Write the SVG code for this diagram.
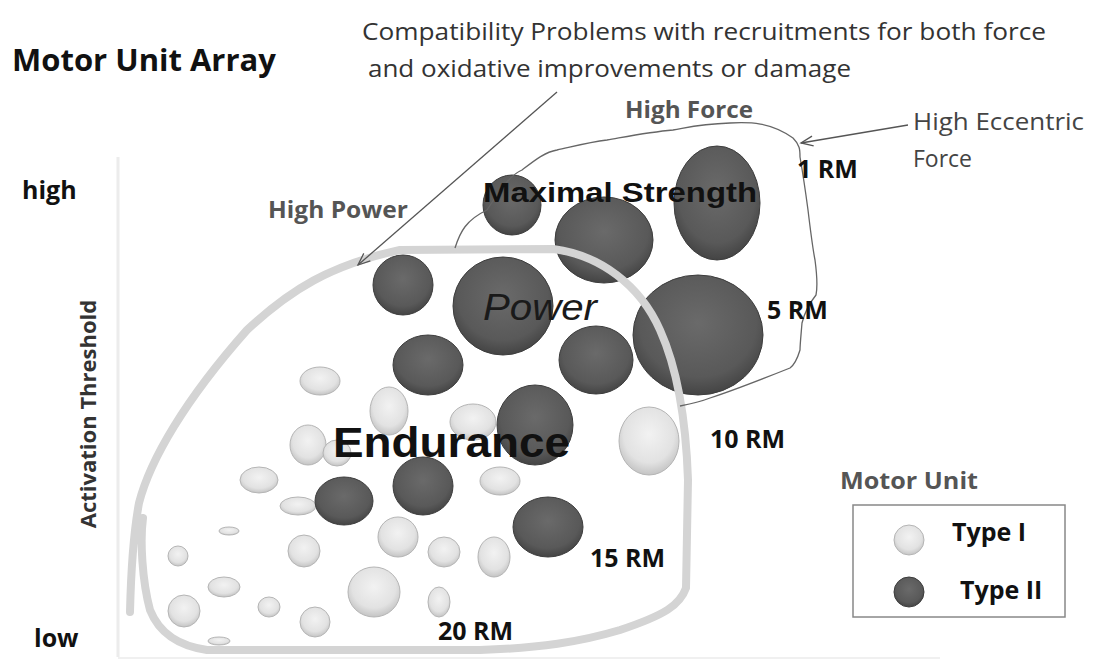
<svg xmlns="http://www.w3.org/2000/svg" width="1094" height="664" viewBox="0 0 1094 664">
<defs>
<radialGradient id="gDark" cx="0.5" cy="0.4" r="0.6">
<stop offset="0" stop-color="#6a6a6a"/>
<stop offset="0.75" stop-color="#595959"/>
<stop offset="1" stop-color="#444"/>
</radialGradient>
<radialGradient id="gLight" cx="0.5" cy="0.4" r="0.6">
<stop offset="0" stop-color="#f2f2f2"/>
<stop offset="0.7" stop-color="#e2e2e2"/>
<stop offset="1" stop-color="#c4c4c4"/>
</radialGradient>
<marker id="vhead" viewBox="-14 -8 16 16" refX="0" refY="0" markerWidth="16" markerHeight="16" markerUnits="userSpaceOnUse" orient="auto">
<path d="M-12,-5 L0,0 L-12,5" fill="none" stroke="#555" stroke-width="1.3"/>
</marker>
<style>
.d{fill:url(#gDark);stroke:#3d3d3d;stroke-width:1}
.l{fill:url(#gLight);stroke:#b5b5b5;stroke-width:1}
.cal{font-family:"Open Sans","Liberation Sans",sans-serif}
.b{font-weight:bold}
.lab{font-family:"Open Sans","Liberation Sans",sans-serif;font-weight:bold;fill:#111;font-size:25px}
.gray{font-family:"Open Sans","Liberation Sans",sans-serif;font-weight:bold;fill:#555;font-size:23px}
.ar{font-family:"Liberation Sans",Arial,sans-serif;font-weight:bold;fill:#111}
</style>
</defs>
<rect width="1094" height="664" fill="#fff"/>
<g id="axes">
<line x1="118" y1="157" x2="118" y2="657" stroke="#ececec" stroke-width="3"/>
<line x1="118" y1="658" x2="940" y2="658" stroke="#f0f0f0" stroke-width="2"/>
</g>
<g id="type1-units">
<ellipse class="l" cx="320" cy="381" rx="20" ry="14"/>
<ellipse class="l" cx="389" cy="411" rx="19" ry="24"/>
<ellipse class="l" cx="473" cy="422" rx="23" ry="18"/>
<ellipse class="l" cx="308" cy="445" rx="18" ry="20"/>
<ellipse class="l" cx="337" cy="453" rx="14" ry="13"/>
<ellipse class="l" cx="649" cy="441" rx="30" ry="34"/>
<ellipse class="l" cx="500" cy="481" rx="20" ry="14"/>
<ellipse class="l" cx="259" cy="480" rx="19" ry="13"/>
<ellipse class="l" cx="298" cy="506" rx="18" ry="9"/>
<ellipse class="l" cx="229" cy="531" rx="10" ry="4"/>
<ellipse class="l" cx="178" cy="556" rx="10" ry="10"/>
<ellipse class="l" cx="304" cy="551" rx="16" ry="16"/>
<ellipse class="l" cx="398" cy="537" rx="20" ry="20"/>
<ellipse class="l" cx="444" cy="552" rx="16" ry="15"/>
<ellipse class="l" cx="494" cy="557" rx="16" ry="20"/>
<ellipse class="l" cx="224" cy="587" rx="16" ry="10"/>
<ellipse class="l" cx="184" cy="611" rx="16" ry="16"/>
<ellipse class="l" cx="269" cy="607" rx="11" ry="10"/>
<ellipse class="l" cx="315" cy="622" rx="15" ry="15"/>
<ellipse class="l" cx="374" cy="592" rx="26" ry="25"/>
<ellipse class="l" cx="439" cy="602" rx="11" ry="15"/>
<ellipse class="l" cx="219" cy="641" rx="11" ry="4"/>
</g>
<g id="type2-units">
<ellipse class="d" cx="512" cy="205" rx="29" ry="30"/>
<ellipse class="d" cx="604" cy="240" rx="49" ry="43"/>
<ellipse class="d" cx="717" cy="203" rx="43" ry="57"/>
<ellipse class="d" cx="403" cy="285" rx="30" ry="30"/>
<ellipse class="d" cx="503" cy="306" rx="50" ry="49"/>
<ellipse class="d" cx="698" cy="335" rx="65" ry="60"/>
<ellipse class="d" cx="596" cy="360" rx="37" ry="34"/>
<ellipse class="d" cx="428" cy="365" rx="35" ry="30"/>
<ellipse class="d" cx="535" cy="425" rx="38" ry="40"/>
<ellipse class="d" cx="423" cy="486" rx="30" ry="29"/>
<ellipse class="d" cx="344" cy="501" rx="29" ry="24"/>
<ellipse class="d" cx="548" cy="527" rx="35" ry="30"/>
</g>
<g id="endurance-region">
<path d="M130,612 C131,570 134,530 139,503 C150,460 185,400 247,330 C290,290 330,265 400,250 L553,249 C600,255 640,285 660,330 C678,370 686,420 688,480 L686,588 C680,605 665,615 620,630 C580,642 540,648 480,650 L207,650 C180,646 160,635 150,610 C142,580 140,540 143,518" fill="none" stroke="#d4d4d4" stroke-width="8" stroke-linejoin="round" stroke-linecap="round"/>
</g>
<g id="force-region">
<path d="M455,248 C460,232 466,220 487,210 C500,190 510,175 522,170 C535,160 545,152 557,150 C575,146 590,142 607,140 C630,136 650,132 673,130 C690,127 700,124 730,123 C750,122 770,122 793,138 C800,145 800,150 800,157 C804,180 806,195 808,210 C811,235 814,255 815,260 C817,275 818,285 816,295 C808,305 804,315 802,323 C801,335 800,345 800,350 C797,360 794,365 790,368 C760,380 735,390 710,398 C700,402 690,404 680,406" fill="none" stroke="#666" stroke-width="1.3"/>
</g>
<g id="connectors">
<line x1="557" y1="92" x2="358" y2="265" stroke="#555" stroke-width="1.3" marker-end="url(#vhead)"/>
<line x1="908" y1="125" x2="801" y2="143" stroke="#555" stroke-width="1.3" marker-end="url(#vhead)"/>
</g>
<g id="labels">
<text class="cal b" x="12" y="71" font-size="31" fill="#111">Motor Unit Array</text>
<text class="cal" x="362" y="40" font-size="23" fill="#333" textLength="684" lengthAdjust="spacingAndGlyphs">Compatibility Problems with recruitments for both force</text>
<text class="cal" x="368" y="77" font-size="23" fill="#333" textLength="483" lengthAdjust="spacingAndGlyphs">and oxidative improvements or damage</text>
<text class="gray" x="625" y="118" textLength="128" lengthAdjust="spacingAndGlyphs">High Force</text>
<text class="gray" x="268" y="218" textLength="140" lengthAdjust="spacingAndGlyphs">High Power</text>
<text class="cal" x="913" y="130" font-size="23" fill="#444" textLength="171" lengthAdjust="spacingAndGlyphs">High Eccentric</text>
<text class="cal" x="913" y="167" font-size="23" fill="#444">Force</text>
<text class="lab" x="797" y="178">1 RM</text>
<text class="lab" x="767" y="319">5 RM</text>
<text class="lab" x="710" y="448">10 RM</text>
<text class="lab" x="590" y="567">15 RM</text>
<text class="lab" x="438" y="640">20 RM</text>
<text class="lab" x="22" y="199" font-size="23">high</text>
<text class="lab" x="34" y="647" font-size="23">low</text>
<text class="cal b" x="0" y="0" font-size="22" fill="#333" transform="translate(96,414) rotate(-90)" text-anchor="middle">Activation Threshold</text>
<text class="ar" x="483" y="202" font-size="28" textLength="274" lengthAdjust="spacingAndGlyphs">Maximal Strength</text>
<text x="483" y="320" font-family="Liberation Sans,Arial,sans-serif" font-style="italic" font-size="37" fill="#1a1a1a" textLength="114" lengthAdjust="spacingAndGlyphs">Power</text>
<text class="ar" x="333" y="457" font-size="42" textLength="237" lengthAdjust="spacingAndGlyphs">Endurance</text>
</g>
<g id="legend">
<text class="gray" x="840" y="489" textLength="138" lengthAdjust="spacingAndGlyphs">Motor Unit</text>
<rect x="853" y="505" width="212" height="112" fill="none" stroke="#888" stroke-width="1.5"/>
<ellipse class="l" cx="909" cy="540" rx="15" ry="15"/>
<ellipse class="d" cx="909" cy="592" rx="15" ry="15"/>
<text class="lab" x="952" y="541" font-size="23">Type I</text>
<text class="lab" x="960" y="599" font-size="23">Type II</text>
</g>
</svg>
